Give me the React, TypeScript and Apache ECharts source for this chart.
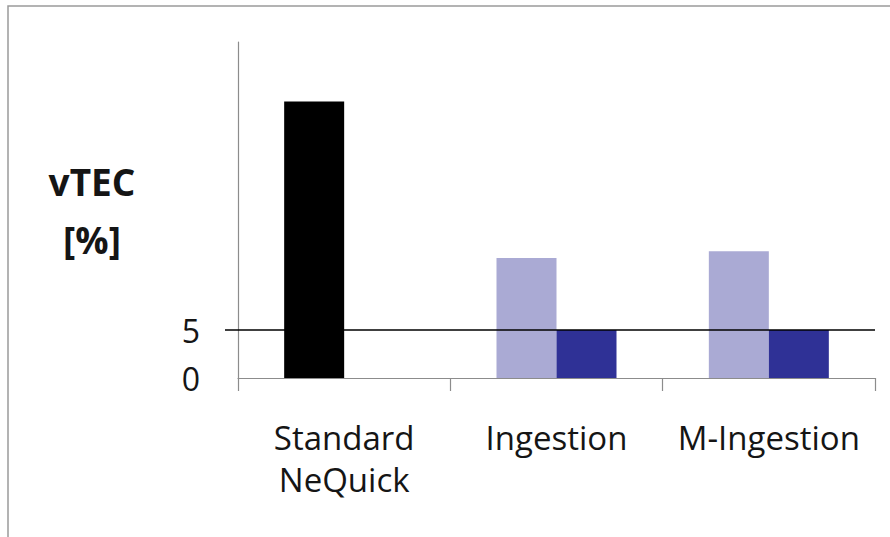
import React, { useEffect, useRef } from "react";
import * as echarts from "echarts";

const categories = ["Standard\nNeQuick", "Ingestion", "M-Ingestion"];
const firstValues = [28.8, 12.5, 13.2];
const secondValues: (number | null)[] = [null, 5, 5];
const firstColors = ["#000000", "#aaaad4", "#aaaad4"];
const referenceLevel = 5;
const yTickLabels = [0, 5];

export default function App() {
  const ref = useRef<HTMLDivElement>(null);
  useEffect(() => {
    if (!ref.current) return;
    const chart = echarts.init(ref.current, undefined, { renderer: "svg" });
    const font = "'Open Sans', 'Liberation Sans', sans-serif";
    chart.setOption({
      animation: false,
      backgroundColor: "#ffffff",
      graphic: [
        {
          type: "rect",
          shape: { x: 8, y: 6, width: 920, height: 600 },
          style: { fill: "none", stroke: "#9a9a9a", lineWidth: 1.5 },
          silent: true,
        },
      ],
      grid: { left: 238, right: 15, top: 42, bottom: 159, containLabel: false },
      xAxis: {
        type: "category",
        data: categories,
        boundaryGap: true,
        axisLine: { lineStyle: { color: "#8c8c8c", width: 1.2 } },
        axisTick: { show: true, interval: 0, length: 13, lineStyle: { color: "#8c8c8c", width: 1.2 } },
        axisLabel: {
          interval: 0,
          margin: 38,
          fontFamily: font,
          fontSize: 33,
          lineHeight: 42,
          color: "#151515",
        },
      },
      yAxis: {
        type: "value",
        min: 0,
        max: 35,
        interval: 5,
        name: "vTEC\n[%]",
        nameLocation: "middle",
        nameRotate: 0,
        nameGap: 146,
        nameTextStyle: {
          fontFamily: font,
          fontSize: 37,
          fontWeight: "bold",
          lineHeight: 58,
          color: "#151515",
          align: "center",
        },
        splitLine: { show: false },
        axisLine: { show: true, lineStyle: { color: "#8c8c8c", width: 1.2 } },
        axisTick: {
          show: true,
          customValues: [referenceLevel],
          length: 13,
          lineStyle: { color: "#000000", width: 1.5 },
        },
        axisLabel: {
          customValues: yTickLabels,
          margin: 38,
          fontFamily: font,
          fontSize: 32,
          color: "#151515",
        },
      },
      series: [
        {
          type: "bar",
          barWidth: 60,
          barGap: "0%",
          data: firstValues.map((v, i) => ({ value: v, itemStyle: { color: firstColors[i] } })),
        },
        {
          type: "bar",
          barWidth: 60,
          barGap: "0%",
          itemStyle: { color: "#2f3196" },
          data: secondValues,
          markLine: {
            silent: true,
            symbol: "none",
            label: { show: false },
            lineStyle: { color: "#000000", width: 1.5, type: "solid" },
            data: [{ yAxis: referenceLevel }],
          },
        },
      ],
    });
    return () => chart.dispose();
  }, []);
  return (
    <div
      ref={ref}
      style={{ position: "fixed", left: 0, top: 0, width: 890, height: 537 }}
    />
  );
}
